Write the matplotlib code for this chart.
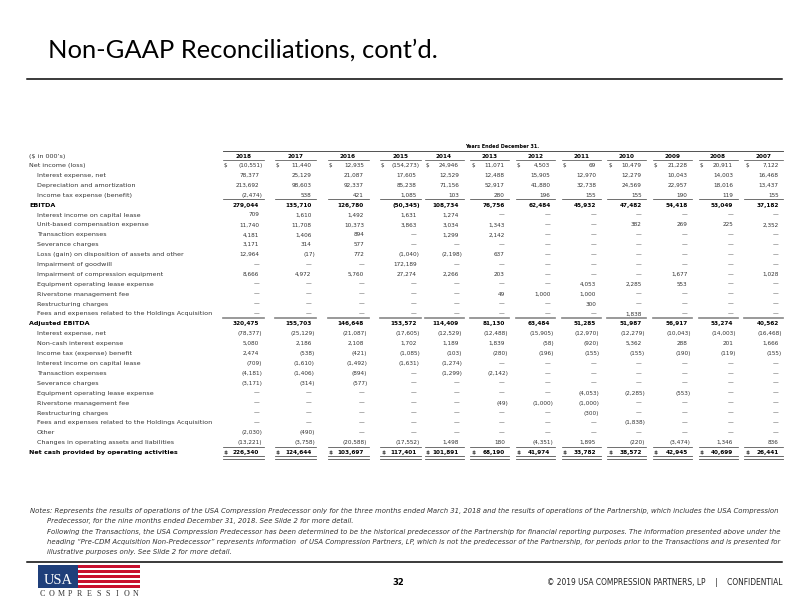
import matplotlib
matplotlib.use('Agg')
import matplotlib.pyplot as plt
from matplotlib import font_manager
from matplotlib.font_manager import FontProperties
from matplotlib.textpath import TextPath
from matplotlib.patches import Rectangle

# ---- data ----
years = ['2018', '2017', '2016', '2015', '2014', '2013',
         '2012', '2011', '2010', '2009', '2008', '2007']

labels = [
    'Net income (loss)',
    'Interest expense, net',
    'Depreciation and amortization',
    'Income tax expense (benefit)',
    'EBITDA',
    'Interest income on capital lease',
    'Unit-based compensation expense',
    'Transaction expenses',
    'Severance charges',
    'Loss (gain) on disposition of assets and other',
    'Impairment of goodwill',
    'Impairment of compression equipment',
    'Equipment operating lease expense',
    'Riverstone management fee',
    'Restructuring charges',
    'Fees and expenses related to the Holdings Acquisition',
    'Adjusted EBITDA',
    'Interest expense, net',
    'Non-cash interest expense',
    'Income tax (expense) benefit',
    'Interest income on capital lease',
    'Transaction expenses',
    'Severance charges',
    'Equipment operating lease expense',
    'Riverstone management fee',
    'Restructuring charges',
    'Fees and expenses related to the Holdings Acquisition',
    'Other',
    'Changes in operating assets and liabilities',
    'Net cash provided by operating activities',
]
bold_rows = [4, 16, 29]
dollar_rows = [0, 29]
underline_rows = [3, 15, 28]

N = None
v2018 = [-10551, 78377, 213692, -2474, 279044, 709, 11740, 4181, 3171, 12964, N, 8666, N, N, N, N,
         320475, -78377, 5080, 2474, -709, -4181, -3171, N, N, N, N, -2030, -13221, 226340]
v2017 = [11440, 25129, 98603, 538, 135710, 1610, 11708, 1406, 314, -17, N, 4972, N, N, N, N,
         155703, -25129, 2186, -538, -1610, -1406, -314, N, N, N, N, -490, -3758, 124644]
v2016 = [12935, 21087, 92337, 421, 126780, 1492, 10373, 894, 577, 772, N, 5760, N, N, N, N,
         146648, -21087, 2108, -421, -1492, -894, -577, N, N, N, N, N, -20588, 103697]
v2015 = [-154273, 17605, 85238, 1085, -50345, 1631, 3863, N, N, -1040, 172189, 27274, N, N, N, N,
         153572, -17605, 1702, -1085, -1631, N, N, N, N, N, N, N, -17552, 117401]
v2014 = [24946, 12529, 71156, 103, 108734, 1274, 3034, 1299, N, -2198, N, 2266, N, N, N, N,
         114409, -12529, 1189, -103, -1274, -1299, N, N, N, N, N, N, 1498, 101891]
v2013 = [11071, 12488, 52917, 280, 76756, N, 1343, 2142, N, 637, N, 203, N, 49, N, N,
         81130, -12488, 1839, -280, N, -2142, N, N, -49, N, N, N, 180, 68190]
v2012 = [4503, 15905, 41880, 196, 62484, N, N, N, N, N, N, N, N, 1000, N, N,
         63484, -15905, -58, -196, N, N, N, N, -1000, N, N, N, -4351, 41974]
v2011 = [69, 12970, 32738, 155, 45932, N, N, N, N, N, N, N, 4053, 1000, 300, N,
         51285, -12970, -920, -155, N, N, N, -4053, -1000, -300, N, N, 1895, 33782]
v2010 = [10479, 12279, 24569, 155, 47482, N, 382, N, N, N, N, N, 2285, N, N, 1838,
         51987, -12279, 5362, -155, N, N, N, -2285, N, N, -1838, N, -220, 38572]
v2009 = [21228, 10043, 22957, 190, 54418, N, 269, N, N, N, N, 1677, 553, N, N, N,
         56917, -10043, 288, -190, N, N, N, -553, N, N, N, N, -3474, 42945]
v2008 = [20911, 14003, 18016, 119, 53049, N, 225, N, N, N, N, N, N, N, N, N,
         53274, -14003, 201, -119, N, N, N, N, N, N, N, N, 1346, 40699]
v2007 = [7122, 16468, 13437, 155, 37182, N, 2352, N, N, N, N, 1028, N, N, N, N,
         40562, -16468, 1666, -155, N, N, N, N, N, N, N, N, 836, 26441]
columns = [v2018, v2017, v2016, v2015, v2014, v2013, v2012, v2011, v2010, v2009, v2008, v2007]

notes = [
    'Notes: Represents the results of operations of the USA Compression Predecessor only for the three months ended '
    'March 31, 2018 and the results of operations of the Partnership, which includes the USA Compression',
    'Predecessor, for the nine months ended December 31, 2018. See Slide 2 for more detail.',
    'Following the Transactions, the USA Compression Predecessor has been determined to be the historical predecessor '
    'of the Partnership for financial reporting purposes. The information presented above under the',
    'heading \u201cPre-CDM Acquisition Non-Predecessor\u201d represents information  of USA Compression Partners, LP, '
    'which is not the predecessor of the Partnership, for periods prior to the Transactions and is presented for',
    'illustrative purposes only. See Slide 2 for more detail.',
]

# ---- fonts ----
installed = {f.name for f in font_manager.fontManager.ttflist}
NARROW = 'Liberation Sans Narrow' if 'Liberation Sans Narrow' in installed else 'DejaVu Sans'
TITLE_FONT = 'Lato' if 'Lato' in installed else 'DejaVu Sans'


def fit_size(s, width, family, weight='normal', style='normal'):
    fp = FontProperties(family=family, weight=weight, style=style)
    w = TextPath((0, 0), s, size=1, prop=fp).get_extents().width
    return width / w


lab_size = fit_size('Fees and expenses related to the Holdings Acquisition', 172, NARROW)
num_size = fit_size('(10,551)', 23.6, NARROW)
title_size = fit_size('Non-GAAP Reconciliations, cont\u2019d.', 385, TITLE_FONT)
note_size = fit_size(notes[0], 752, NARROW, style='italic')
head_size = fit_size('Years Ended December 31.', 74, NARROW, weight='bold')


def fmt(v):
    if v is None:
        return '\u2014'
    if v < 0:
        return '({:,})'.format(-v)
    return '{:,}'.format(v)


fig = plt.figure(figsize=(11, 8.5), dpi=72)
ax = fig.add_axes([0, 0, 1, 1])
ax.set_xlim(0, 792)
ax.set_ylim(612, 0)
ax.axis('off')

# title
ax.text(48, 57.5, 'Non-GAAP Reconciliations, cont\u2019d.', fontsize=title_size,
        family=TITLE_FONT, color='black', va='baseline')
ax.plot([27, 782], [78.5, 78.5], color='black', lw=1.5)

# table layout
centers = [243, 295.5, 348, 400.5, 444, 489.7, 535.4, 581, 626.7, 672.4, 718, 763.7]
half_w = [20.5, 20.5, 20.5, 20.5, 19.5, 19.5, 19.5, 19.5, 19.5, 19.5, 19.5, 19.5]
row0, pitch = 164.6, 9.9
txt = '#333333'

ax.text(502, 147.5, 'Years Ended December 31.', fontsize=head_size, family=NARROW,
        weight='bold', color='black', ha='center', va='baseline')
ax.plot([223, 783], [150.5, 150.5], color='#444', lw=0.9)
ax.text(29, 158, '($ in 000\u2019s)', fontsize=lab_size, family=NARROW, color=txt, va='baseline')
for j, yr in enumerate(years):
    ax.text(centers[j], 158, yr, fontsize=num_size, family=NARROW, weight='bold',
            color='black', ha='center', va='baseline')
    ax.plot([centers[j] - half_w[j], centers[j] + half_w[j]], [160, 160], color='#444', lw=0.7)

for i, lab in enumerate(labels):
    y = row0 + i * pitch
    bold = i in bold_rows
    lx = 29 if (i == 0 or bold) else 37
    ax.text(lx, y + 2.4, lab, fontsize=lab_size, family=NARROW,
            weight='bold' if bold else 'normal', color='black' if bold else txt, va='baseline')
    for j, col in enumerate(columns):
        left = centers[j] - half_w[j]
        right = centers[j] + half_w[j]
        v = col[i]
        s = fmt(v)
        xr = right - 1.2 if (v is not None and v < 0) else right - 4.4
        ax.text(xr, y + 2.4, s, fontsize=num_size, family=NARROW,
                weight='bold' if bold else 'normal', color='black' if bold else txt,
                ha='right', va='baseline')
        if i in dollar_rows:
            ax.text(left + 1, y + 2.4, '$', fontsize=num_size, family=NARROW,
                    weight='bold' if bold else 'normal', color=txt, va='baseline')
        if i in underline_rows:
            c, lw = ('#8a8a8a', 1.7) if i == 15 else ('#444', 0.75)
            ax.plot([left, right], [y + 4.8, y + 4.8], color=c, lw=lw)
        if i == 29:
            ax.plot([left, right], [y + 4.7, y + 4.7], color='#555', lw=0.85)
            ax.plot([left, right], [y + 6.9, y + 6.9], color='#555', lw=0.85)

# notes
note_x = [30, 47, 47, 47, 47]
for k, line in enumerate(notes):
    ax.text(note_x[k], 513 + k * 10.3, line, fontsize=note_size, family=NARROW,
            style='italic', color='#333', va='baseline')

# footer
ax.plot([27, 782], [562, 562], color='black', lw=1.5)

ax.add_patch(Rectangle((38, 565), 40, 23, facecolor='#1f3f7a', edgecolor='none'))
ax.text(58, 583.5, 'USA', fontsize=14.5, family='Liberation Serif', color='white',
        ha='center', va='baseline')
stripe_h = 23 / 9
for k in range(9):
    ax.add_patch(Rectangle((78, 565 + k * stripe_h), 62, stripe_h,
                           facecolor='#c8102e' if k % 2 == 0 else 'white', edgecolor='none'))
word = 'COMPRESSION'
for k, ch in enumerate(word):
    ax.text(42 + k * 9.4, 596, ch, fontsize=8, family='Liberation Serif',
            color='#333', ha='center', va='baseline')

ax.text(398, 585, '32', fontsize=8.5, family=NARROW, weight='bold', color='black',
        ha='center', va='baseline')
copy_txt = '\u00a9 2019 USA COMPRESSION PARTNERS, LP    |    CONFIDENTIAL'
ax.text(782, 585, copy_txt, fontsize=fit_size(copy_txt, 236, NARROW), family=NARROW,
        color='#222', ha='right', va='baseline')

fig.savefig('out.png', dpi=72)
